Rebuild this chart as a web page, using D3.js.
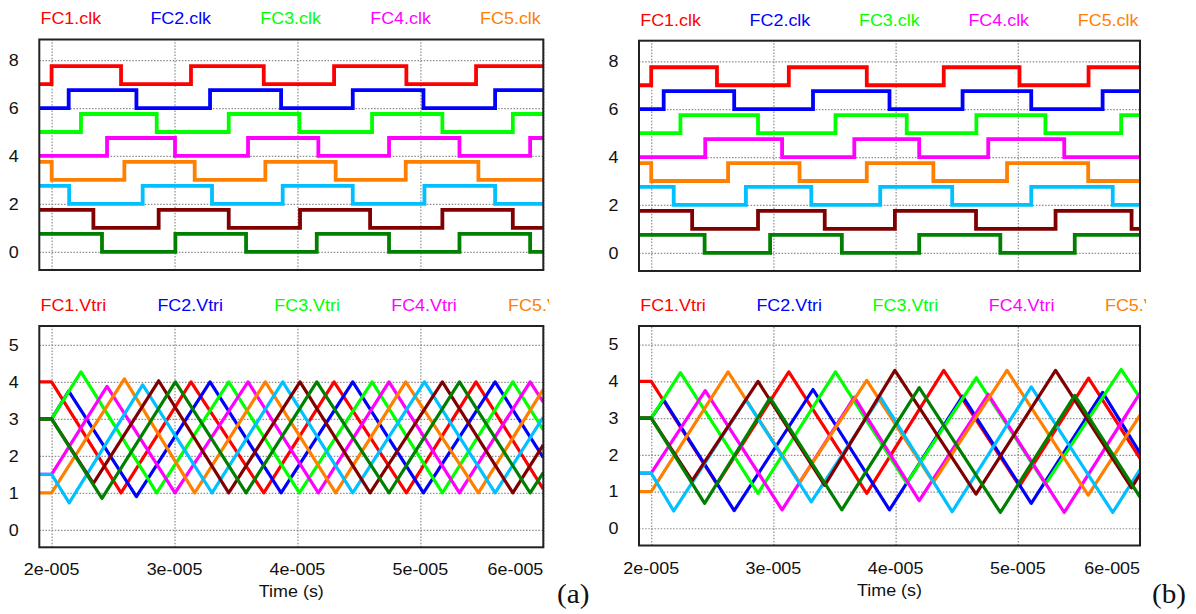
<!DOCTYPE html>
<html>
<head>
<meta charset="utf-8">
<script src="https://cdn.jsdelivr.net/npm/d3@7"></script>
<style>
  html, body { margin: 0; padding: 0; background: #fff; }
  svg { display: block; }
  text { font-family: "Liberation Sans", Arial, sans-serif; }
</style>
</head>
<body>
<svg id="chart" width="1196" height="614"></svg>
<script>
// ---- series ----
const seriesNames  = ["FC1", "FC2", "FC3", "FC4", "FC5", "FC6", "FC7", "FC8"];
const seriesColors = ["#ff0000", "#0000ff", "#00ff00", "#ff00ff", "#ff8000", "#00c0ff", "#800000", "#008000"];
const clkBase  = [7, 6, 5, 4, 3, 2, 1, 0];   // offset of each clock trace
const clkHigh  = 0.75;                        // clock amplitude

// ---- axes ----
const timeDomain     = [19, 60];              // microseconds
const timeTicks      = [20, 30, 40, 50, 60];
const timeTickLabels = ["2e-005", "3e-005", "4e-005", "5e-005", "6e-005"];
const clkDomain      = [-0.76, 8.86];
const clkTicks       = [0, 2, 4, 6, 8];
const triDomain      = [-0.47, 5.51];
const triTicks       = [0, 1, 2, 3, 4, 5];

// ---- case (a): clock start level (0/1) and switching instants (us) ----
const clkStartA = [0, 0, 0, 0, 1, 1, 1, 1];
const clkEdgesA = [
  [20.0, 25.65, 31.34, 37.26, 42.98, 48.86, 54.53],
  [21.39, 26.9, 32.89, 38.67, 44.5, 50.25, 56.08],
  [22.39, 28.55, 34.41, 40.16, 46.07, 51.79, 57.52],
  [24.51, 30.04, 35.98, 41.7, 47.45, 53.18, 58.93],
  [20.01, 25.92, 31.64, 37.39, 43.11, 48.81, 54.72],
  [21.43, 27.41, 33.05, 38.8, 44.5, 50.33, 56.08],
  [23.4, 28.71, 34.41, 40.21, 45.91, 51.79, 57.52],
  [24.1, 30.07, 35.82, 41.57, 47.45, 53.18, 58.93]
];
// ---- case (a): triangle carriers, [time us, value] vertices ----
const triA = [
  [[19, 4], [20, 4], [25.65, 1], [31.34, 4], [37.26, 1], [42.98, 4], [48.86, 1], [54.53, 4], [60, 1.1]],
  [[19, 3], [20, 3], [21.39, 3.75], [26.9, 0.9], [32.89, 4], [38.67, 1], [44.5, 4], [50.25, 1], [56.08, 4], [60, 1.95]],
  [[19, 3], [20, 3], [22.39, 4.27], [28.55, 1], [34.41, 4], [40.16, 1], [46.07, 4], [51.79, 1], [57.52, 4], [60, 2.7]],
  [[19, 1.5], [20, 1.5], [24.51, 3.88], [30.04, 1], [35.98, 4], [41.7, 1], [47.45, 4], [53.18, 1], [58.93, 4], [60, 3.45]],
  [[19, 1], [20, 1], [25.92, 4.08], [31.64, 1], [37.39, 4], [43.11, 1], [48.81, 4], [54.72, 1], [60, 3.8]],
  [[19, 1.5], [20, 1.5], [21.43, 0.73], [27.41, 3.92], [33.05, 1], [38.8, 4], [44.5, 1], [50.33, 4], [56.08, 1], [60, 3.05]],
  [[19, 3], [20, 3], [23.4, 1.26], [28.71, 4.03], [34.41, 1], [40.21, 4], [45.91, 1], [51.79, 4], [57.52, 1], [60, 2.3]],
  [[19, 3], [20, 3], [24.1, 0.85], [30.07, 4], [35.82, 1], [41.57, 4], [47.45, 1], [53.18, 4], [58.93, 1], [60, 1.55]]
];

// ---- case (b) ----
const clkStartB = [0, 0, 0, 0, 1, 1, 1, 1];
const clkEdgesB = [
  [20.0, 25.38, 31.26, 37.64, 43.94, 50.14, 55.79],
  [21.02, 26.79, 33.24, 39.5, 45.48, 51.1, 56.94],
  [22.39, 28.74, 35.08, 40.91, 46.61, 52.26, 58.46],
  [24.42, 30.71, 36.62, 41.93, 47.58, 53.8],
  [20.0, 26.29, 32.14, 37.64, 43.09, 49.12, 55.76],
  [21.84, 27.75, 33.1, 38.74, 44.63, 51.1, 57.77],
  [23.35, 28.74, 34.2, 39.94, 46.58, 53.09, 59.31],
  [24.37, 29.73, 35.6, 41.93, 48.57, 54.66]
];
const triB = [
  [[19, 4], [20, 4], [25.38, 1.2], [31.26, 4.26], [37.64, 0.95], [43.94, 4.3], [50.14, 1.15], [55.79, 4.09], [60, 1.9]],
  [[19, 3], [20, 3], [21.02, 3.5], [26.79, 0.48], [33.24, 3.78], [39.5, 0.5], [45.48, 3.6], [51.1, 0.68], [56.94, 3.7], [60, 2.05]],
  [[19, 3], [20, 3], [22.39, 4.24], [28.74, 0.95], [35.08, 4.26], [40.91, 1.23], [46.61, 4.1], [52.26, 1.2], [58.46, 4.33], [60, 3.55]],
  [[19, 1.5], [20, 1.5], [24.42, 3.75], [30.71, 0.5], [36.62, 3.57], [41.93, 0.75], [47.58, 3.65], [53.8, 0.43], [60, 3.68]],
  [[19, 1], [20, 1], [26.29, 4.26], [32.14, 1.25], [37.64, 4.03], [43.09, 1.25], [49.12, 4.3], [55.76, 0.9], [60, 3.08]],
  [[19, 1.5], [20, 1.5], [21.84, 0.47], [27.75, 3.5], [33.1, 0.72], [38.74, 3.58], [44.63, 0.45], [51.1, 3.85], [57.77, 0.43], [60, 1.6]],
  [[19, 3], [20, 3], [23.35, 1.3], [28.74, 4.0], [34.2, 1.17], [39.94, 4.3], [46.58, 0.93], [53.09, 4.3], [59.31, 1.1], [60, 1.47]],
  [[19, 3], [20, 3], [24.37, 0.68], [29.73, 3.55], [35.6, 0.5], [41.93, 3.83], [48.57, 0.43], [54.66, 3.62], [60, 0.85]]
];

// ---- layout ----
const SX = 1.12;   // horizontal stretch of the lettering
const cases = [
  { tag: "(a)", tagX: 557, clkStart: clkStartA, clkEdges: clkEdgesA, tri: triA,
    clkBox: { l: 39.3, r: 543.3, t: 39.5, b: 270 },  clkLegY: 24,   clkLegStep: 109.9,
    triBox: { l: 39.3, r: 543.3, t: 326, b: 547.3 }, triLegY: 311,  triLegStep: 116.9,
    tickY: 575, titleY: 597 },
  { tag: "(b)", tagX: 1152, clkStart: clkStartB, clkEdges: clkEdgesB, tri: triB,
    clkBox: { l: 639, r: 1140, t: 40.7, b: 271 },    clkLegY: 25.5, clkLegStep: 109.4,
    triBox: { l: 639, r: 1140, t: 326, b: 545.5 },   triLegY: 311,  triLegStep: 116.2,
    tickY: 573.5, titleY: 595.5 }
];

const svg = d3.select("#chart");
const defs = svg.append("defs");
let clipId = 0;

function stretchedText(g, x, y, str, opts) {
  const t = g.append("text")
    .attr("transform", `translate(${x},${y}) scale(${opts.sx || SX},1)`)
    .attr("text-anchor", opts.anchor || "start")
    .attr("font-size", opts.size || 16)
    .attr("fill", opts.fill || "#111")
    .text(str);
  if (opts.family) t.style("font-family", opts.family);
  return t;
}

function drawPanel(box, yDomain, yTicks, kind, c, showTime) {
  const x = d3.scaleLinear().domain(timeDomain).range([box.l, box.r]);
  const y = d3.scaleLinear().domain(yDomain).range([box.b, box.t]);
  const w = box.r - box.l, h = box.b - box.t;
  const g = svg.append("g");

  // dotted grid
  const gx = g.append("g").attr("transform", `translate(0,${box.b})`)
    .call(d3.axisBottom(x).tickValues(timeTicks).tickSize(-h).tickFormat(""));
  const gy = g.append("g").attr("transform", `translate(${box.l},0)`)
    .call(d3.axisLeft(y).tickValues(yTicks).tickSize(-w).tickFormat(""));
  [gx, gy].forEach(a => {
    a.select(".domain").remove();
    a.selectAll(".tick line")
      .attr("stroke", "#8c8c8c").attr("stroke-width", 1.2)
      .attr("stroke-dasharray", "1.5,1.6");
  });

  // y tick labels
  yTicks.forEach(v => {
    stretchedText(g, box.l - 20.5, y(v), String(v), { anchor: "end" })
      .attr("dy", "0.36em");
  });

  // traces
  const id = "clip" + (clipId++);
  defs.append("clipPath").attr("id", id)
    .append("rect").attr("x", box.l).attr("y", box.t).attr("width", w).attr("height", h);
  const lines = g.append("g").attr("clip-path", `url(#${id})`);

  if (kind === "clk") {
    const stepLine = d3.line().curve(d3.curveStepAfter)
      .x(d => x(d[0])).y(d => y(d[1]));
    c.clkEdges.forEach((edges, i) => {
      let s = c.clkStart[i];
      const pts = [[timeDomain[0], clkBase[i] + s * clkHigh]];
      edges.forEach(e => { s = 1 - s; pts.push([e, clkBase[i] + s * clkHigh]); });
      pts.push([timeDomain[1], clkBase[i] + s * clkHigh]);
      lines.append("path").attr("d", stepLine(pts))
        .attr("fill", "none").attr("stroke", seriesColors[i])
        .attr("stroke-width", 3.8).attr("stroke-linejoin", "miter");
    });
  } else {
    const triLine = d3.line().x(d => x(d[0])).y(d => y(d[1]));
    c.tri.forEach((pts, i) => {
      lines.append("path").attr("d", triLine(pts))
        .attr("fill", "none").attr("stroke", seriesColors[i])
        .attr("stroke-width", 3.2).attr("stroke-linejoin", "round");
    });
  }

  // frame
  g.append("rect").attr("x", box.l).attr("y", box.t).attr("width", w).attr("height", h)
    .attr("fill", "none").attr("stroke", "#222").attr("stroke-width", 2);

  // time labels
  if (showTime) {
    timeTicks.forEach((t, k) => {
      const last = k === timeTicks.length - 1;
      stretchedText(g, last ? box.r : x(t), c.tickY, timeTickLabels[k],
        { anchor: last ? "end" : "middle" });
    });
    stretchedText(g, (box.l + box.r) / 2, c.titleY, "Time (s)", { anchor: "middle" });
  }
  return g;
}

function drawLegend(box, y, step, suffix) {
  const id = "clip" + (clipId++);
  const edge = box.r + 6;
  defs.append("clipPath").attr("id", id)
    .append("rect").attr("x", 0).attr("y", y - 20).attr("width", edge).attr("height", 28);
  const g = svg.append("g").attr("clip-path", `url(#${id})`);
  seriesNames.forEach((n, i) => {
    const lx = box.l + 1.2 + i * step;
    if (lx < edge) {
      stretchedText(g, lx, y, n + suffix, { fill: seriesColors[i] });
    }
  });
}

cases.forEach(c => {
  drawLegend(c.clkBox, c.clkLegY, c.clkLegStep, ".clk");
  drawPanel(c.clkBox, clkDomain, clkTicks, "clk", c, false);
  drawLegend(c.triBox, c.triLegY, c.triLegStep, ".Vtri");
  drawPanel(c.triBox, triDomain, triTicks, "tri", c, true);
  stretchedText(svg, c.tagX, 602.5, c.tag,
    { size: 27, sx: 1.08, family: "'Liberation Serif', 'Times New Roman', serif" });
});
</script>
</body>
</html>
